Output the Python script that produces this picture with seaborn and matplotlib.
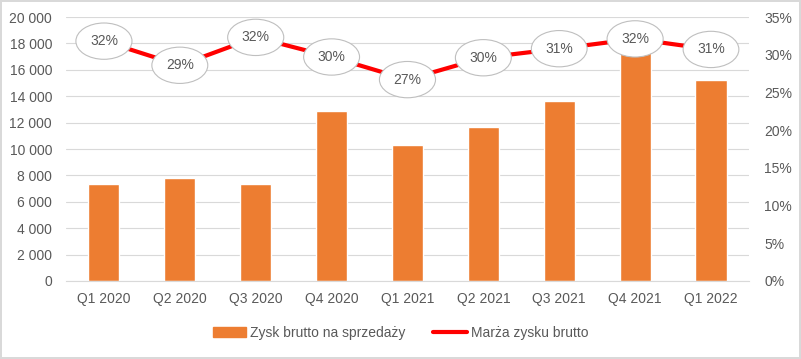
import matplotlib
matplotlib.use("Agg")
import matplotlib.pyplot as plt
import matplotlib.ticker as mticker
from matplotlib.lines import Line2D
from matplotlib.patches import Patch
import seaborn as sns
import pandas as pd
import numpy as np

quarters = ["Q1 2020", "Q2 2020", "Q3 2020", "Q4 2020", "Q1 2021",
            "Q2 2021", "Q3 2021", "Q4 2021", "Q1 2022"]
gross_profit = [7370, 7800, 7370, 12900, 10300, 11670, 13660, 18000, 15200]
margin = [0.318, 0.286, 0.323, 0.297, 0.267, 0.296, 0.308, 0.321, 0.307]

bar_label = "Zysk brutto na sprzedaży"
line_label = "Marża zysku brutto"

sns.set_style("white")
plt.rcParams["font.family"] = ["Liberation Sans", "DejaVu Sans"]
text_col = "#595959"
fs = 10

df = pd.DataFrame({"quarter": quarters, "profit": gross_profit,
                   "margin": margin, "pos": np.arange(len(quarters))})

fig = plt.figure(figsize=(8.01, 3.59), dpi=100)
fig.patch.set_edgecolor("#d9d9d9")
fig.patch.set_linewidth(1.5)
ax = fig.add_axes([0.0824, 0.2173, 0.8526, 0.7353])

sns.barplot(data=df, x="quarter", y="profit", color="#ED7D31",
            saturation=1, width=0.41, ax=ax)
ax.set_xlim(-0.5, len(quarters) - 0.5)
ax.set_ylim(0, 20000)
ax.yaxis.set_major_locator(mticker.MultipleLocator(2000))
ax.yaxis.set_major_formatter(mticker.FuncFormatter(
    lambda v, p: f"{int(v):,}".replace(",", " ")))
ax.grid(axis="y", color="#d9d9d9", linewidth=0.8)
ax.set_axisbelow(True)
ax.set_xlabel("")
ax.set_ylabel("")
for s in ["top", "left", "right"]:
    ax.spines[s].set_visible(False)
ax.spines["bottom"].set_color("#d9d9d9")
ax.tick_params(axis="both", length=0, labelsize=fs, colors=text_col)
ax.tick_params(axis="y", pad=10)
ax.tick_params(axis="x", pad=8)

ax2 = ax.twinx()
sns.lineplot(data=df, x="pos", y="margin", color="#FF0000", linewidth=3,
             ax=ax2)
ax2.set_ylim(0, 0.35)
ax2.yaxis.set_major_locator(mticker.MultipleLocator(0.05))
ax2.yaxis.set_major_formatter(mticker.PercentFormatter(1.0, decimals=0))
ax2.set_xlim(-0.5, len(quarters) - 0.5)
ax2.set_ylabel("")
for s in ax2.spines.values():
    s.set_visible(False)
ax2.tick_params(axis="y", length=0, labelsize=fs, colors=text_col, pad=11)

for x, m in zip(df["pos"], df["margin"]):
    ax2.text(x, m, f"{round(m * 100)}%", ha="center", va="center",
             fontsize=fs, color=text_col,
             bbox=dict(boxstyle="ellipse,pad=0.42", fc="white",
                       ec="#bfbfbf", lw=0.8))

handles = [Patch(color="#ED7D31", label=bar_label),
           Line2D([0], [0], color="#FF0000", lw=3, label=line_label)]
fig.legend(handles=handles, loc="center", bbox_to_anchor=(0.5, 0.073),
           ncol=2, frameon=False, fontsize=fs, labelcolor=text_col,
           handlelength=2.4, columnspacing=2.0, handletextpad=0.3)

fig.savefig("out.png", dpi=100, edgecolor=fig.get_edgecolor())
